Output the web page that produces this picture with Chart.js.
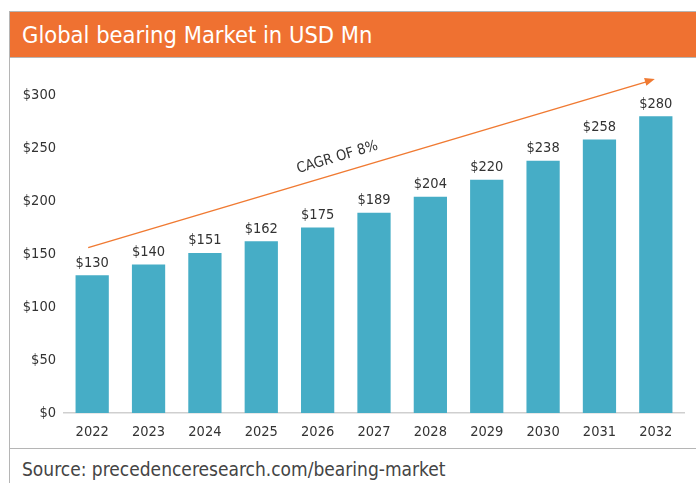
<!DOCTYPE html>
<html>
<head>
<meta charset="utf-8">
<script src="https://cdn.jsdelivr.net/npm/chart.js@4"></script>
<style>
  body { margin: 0; background: #fff; width: 696px; height: 483px; overflow: hidden; position: relative; }
  .font { font-family: 'Liberation Sans Narrow', 'DejaVu Sans Condensed', 'Roboto', sans-serif; }
  #box { position: absolute; left: 9px; top: 11px; width: 700px; height: 480px; border: 1px solid #b5b5b5; box-sizing: border-box; }
  #head { position: absolute; left: 0; top: 0; right: 0; height: 45px; background: #EF7131; border-bottom: 1px solid #b5b5b5; }
  #head span { position: absolute; left: 12px; top: 9px; color: #fff; font-size: 23.5px; }
  #foot { position: absolute; left: 0; right: 0; top: 436px; border-top: 1px solid #b5b5b5; }
  #foot span { position: absolute; left: 12px; top: 9px; color: #444; font-size: 19px; }
  #wrap { position: absolute; left: 10px; top: 58px; width: 686px; height: 390px; }
</style>
</head>
<body>
<div id="box">
  <div id="head"><span class="font">Global bearing Market in USD Mn</span></div>
  <div id="foot"><span class="font">Source: precedenceresearch.com/bearing-market</span></div>
</div>
<div id="wrap"><canvas id="grafico" width="686" height="390"></canvas></div>
<script>
const anos = ['2022', '2023', '2024', '2025', '2026', '2027', '2028', '2029', '2030', '2031', '2032'];
const valores = [130, 140, 151, 162, 175, 189, 204, 220, 238, 258, 280];
const ticksY = [0, 50, 100, 150, 200, 250, 300];
const cagrTexto = 'CAGR OF 8%';

const fonte = "'Liberation Sans Narrow', 'DejaVu Sans Condensed', sans-serif";

// rótulos em cima das barras + seta do CAGR
const extras = {
    id: 'extras',
    afterDatasetsDraw(chart) {
        const ctx = chart.ctx;
        const x = chart.scales.x, y = chart.scales.y;
        ctx.save();
        ctx.font = '14.5px ' + fonte;
        ctx.fillStyle = '#333';
        ctx.textAlign = 'center';
        ctx.textBaseline = 'bottom';
        chart.getDatasetMeta(0).data.forEach((bar, i) => {
            ctx.fillText('$' + valores[i], bar.x, bar.y - 5);
        });

        const x1 = x.getPixelForValue(0) - 4, y1 = y.getPixelForValue(156);
        const x2 = x.getPixelForValue(10) - 1, y2 = y.getPixelForValue(315);
        ctx.strokeStyle = '#F07A32';
        ctx.fillStyle = '#F07A32';
        ctx.lineWidth = 1.5;
        ctx.beginPath();
        ctx.moveTo(x1, y1);
        ctx.lineTo(x2 - 6, y2 + 2);
        ctx.stroke();
        const ang = Math.atan2(y2 - y1, x2 - x1);
        ctx.beginPath();
        ctx.moveTo(x2, y2);
        ctx.lineTo(x2 - 10 * Math.cos(ang) + 4 * Math.sin(ang), y2 - 10 * Math.sin(ang) - 4 * Math.cos(ang));
        ctx.lineTo(x2 - 10 * Math.cos(ang) - 4 * Math.sin(ang), y2 - 10 * Math.sin(ang) + 4 * Math.cos(ang));
        ctx.closePath();
        ctx.fill();

        ctx.translate(x.getPixelForValue(4.35), y.getPixelForValue(241));
        ctx.rotate(ang);
        ctx.font = '14.5px ' + fonte;
        ctx.fillStyle = '#333';
        ctx.textBaseline = 'middle';
        ctx.fillText(cagrTexto, 0, 0);
        ctx.restore();
    }
};

const ctxBarra = document.getElementById('grafico').getContext('2d');
const graficoBarra = new Chart(ctxBarra, {
    type: 'bar',
    data: {
        labels: anos,
        datasets: [{
            data: valores,
            backgroundColor: '#46ADC6',
            barPercentage: 0.59,
            categoryPercentage: 1
        }]
    },
    options: {
        responsive: false,
        animation: false,
        layout: { padding: { top: 37, right: 12, left: 0, bottom: 0 } },
        plugins: {
            legend: { display: false },
            tooltip: { enabled: false }
        },
        scales: {
            x: {
                grid: { display: false },
                border: { color: '#cfcfcf', width: 1.5 },
                ticks: { color: '#333', font: { family: fonte, size: 14.5 }, padding: 3, maxRotation: 0 },
                afterFit: (s) => { s.height = 35; }
            },
            y: {
                min: 0,
                max: 300,
                grid: { display: false },
                border: { display: false },
                afterBuildTicks: (s) => { s.ticks = ticksY.map(v => ({ value: v })); },
                ticks: {
                    color: '#333',
                    font: { family: fonte, size: 14.5 },
                    padding: 0,
                    callback: (v) => '$' + v
                },
                afterFit: (s) => { s.width = 54; }
            }
        }
    },
    plugins: [extras]
});
</script>
</body>
</html>
